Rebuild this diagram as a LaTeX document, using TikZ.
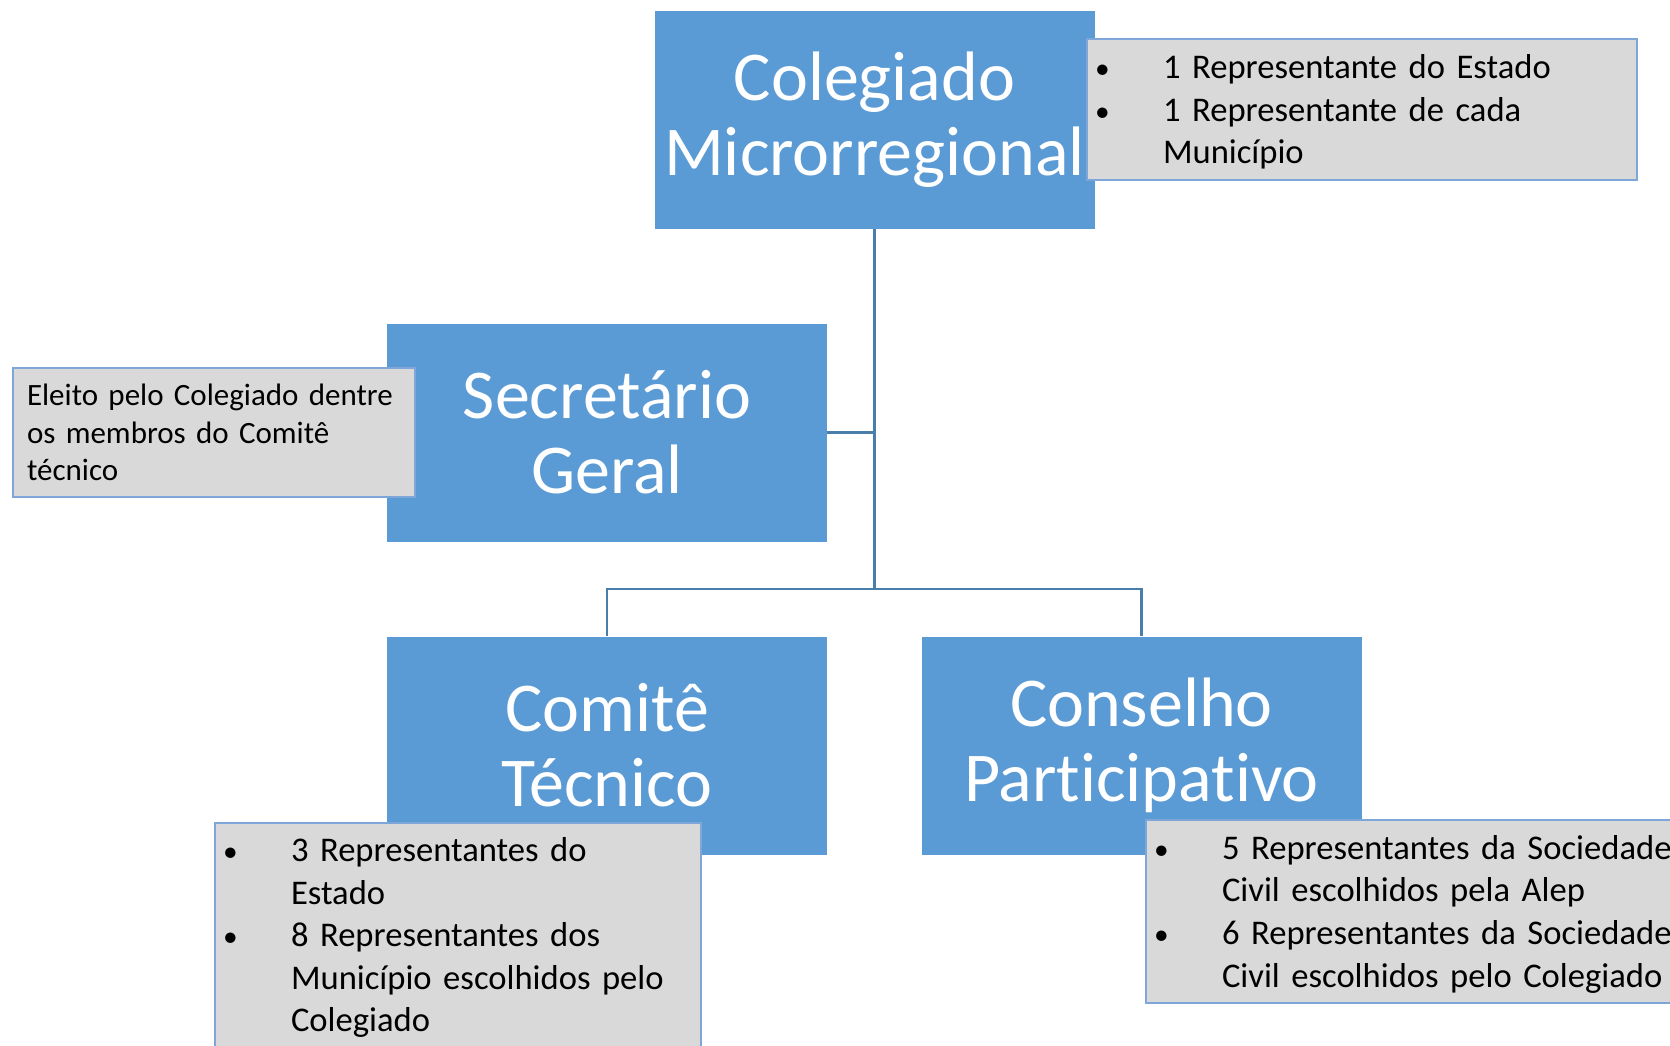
\documentclass[tikz,border=0pt]{standalone}
\usepackage{fontspec}
\setmainfont{Carlito}[Ligatures=NoCommon]
\usepackage{tikz}
\definecolor{azzurro}{RGB}{91,155,213}
\definecolor{grigio}{RGB}{217,217,217}
\definecolor{bordo}{RGB}{126,166,216}
\definecolor{linea}{RGB}{74,126,170}
\newcommand{\pallino}{\scalebox{0.85}{\textbullet}}
\newcommand{\elenco}[1]{\raisebox{-1.6pt}[\height][\depth]{\begin{tabular}{@{}p{34pt}@{}l@{}}#1\end{tabular}}}

\begin{document}
\begin{tikzpicture}[x=0.5pt,y=-0.5pt,
    blu/.style={fill=azzurro, text=white, inner sep=2pt, minimum width=220pt, minimum height=109pt, align=center, font=\fontsize{35}{37.5}\selectfont},
    nota/.style={fill=grigio, draw=bordo, line width=0.7pt, align=left, inner ysep=0pt, font=\fontsize{17.3}{21.3}\selectfont},
    conn/.style={draw=linea, line width=1.3pt}]
        \useasboundingbox (0,0) rectangle (1670,1045);
        \clip (0,0) rectangle (1670,1045);
        %box principali
        \node[blu] (col) at (874.5,120) {Colegiado\\Microrregional};
        \node[blu] (sec) at (607,432.5) {Secretário\\Geral};
        \node[blu] (com) at (607,745.5) {Comitê\\Técnico};
        \node[blu] (con) at (1141.5,745.5) {Conselho\\Participativo};
        %collegamenti
        \coordinate (bus) at (874.5,589);
        \draw[conn] (col.south) -- (bus);
        \draw[conn] (sec.east) -- (sec.east -| bus);
        \draw[conn] (com.north) |- (bus) -| (con.north);
        %note grigie
        \node[nota, inner xsep=4pt, text width=267pt, minimum height=70.5pt] (notacol) at (1362,109.5)
            {\elenco{\pallino & 1 Representante do Estado\\ \pallino & 1 Representante de cada\\ & Município}};
        \node[nota, inner xsep=7pt, text width=187pt, minimum height=64.5pt, font=\fontsize{15.5}{18.65}\selectfont] (notasec) at (214,432.5)
            {Eleito pelo Colegiado dentre\\os membros do Comitê\\técnico};
        \node[nota, inner xsep=4pt, text width=235pt, minimum height=112pt] (notacom) at (458,935)
            {\elenco{\pallino & 3 Representantes do\\ & Estado\\ \pallino & 8 Representantes dos\\ & Município escolhidos pelo\\ & Colegiado}};
        \node[nota, inner xsep=4pt, text width=272pt, minimum height=91.5pt] (notacon) at (1426,911.5)
            {\elenco{\pallino & 5 Representantes da Sociedade\\ & Civil escolhidos pela Alep\\ \pallino & 6 Representantes da Sociedade\\ & Civil escolhidos pelo Colegiado}};
\end{tikzpicture}
\end{document}
